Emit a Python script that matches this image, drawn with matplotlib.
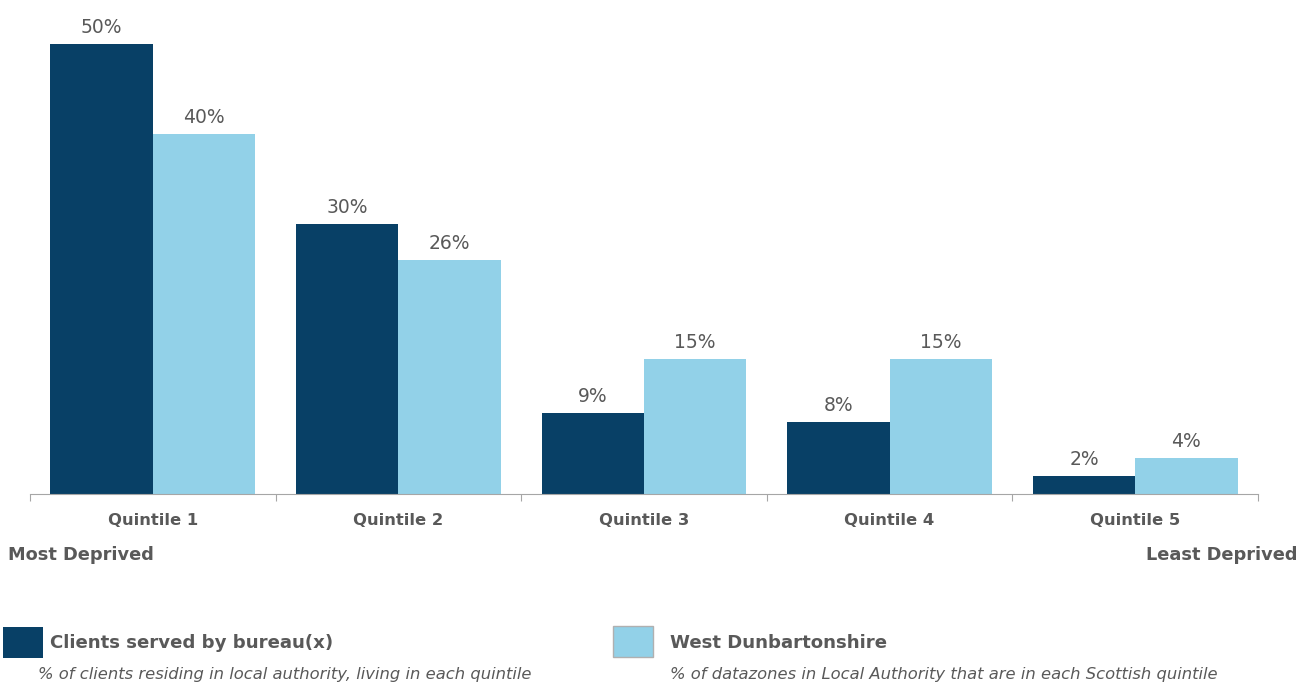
import matplotlib.pyplot as plt
import numpy as np
from matplotlib.patches import Rectangle

categories = ['Quintile 1', 'Quintile 2', 'Quintile 3', 'Quintile 4', 'Quintile 5']
clients = [50, 30, 9, 8, 2]
area = [40, 26, 15, 15, 4]
series_names = ['Clients served by bureau(x)', 'West Dunbartonshire']
series_notes = ['% of clients residing in local authority, living in each quintile',
                '% of datazones in Local Authority that are in each Scottish quintile']

DARK = '#084066'
LIGHT = '#92d1e8'
TXT = '#595959'
W, H = 1301, 684

plt.rcParams['font.family'] = ['DejaVu Sans']

fig = plt.figure(figsize=(W / 100, H / 100), dpi=100)

def px(x, y):
    # pixel position (from top-left) to figure fraction
    return x / W, 1 - y / H

ax_l, ax_r, ax_b, ax_t = 30, 1258, 494, 26
ax = fig.add_axes([ax_l / W, 1 - ax_b / H, (ax_r - ax_l) / W, (ax_b - ax_t) / H])

x = np.arange(len(categories))
bw = 0.417
ax.bar(x - bw / 2, clients, bw, color=DARK)
ax.bar(x + bw / 2, area, bw, color=LIGHT)

for i in range(len(categories)):
    ax.text(x[i] - bw / 2, clients[i] + 0.8, f'{clients[i]}%', ha='center', va='bottom',
            fontsize=13.5, color=TXT)
    ax.text(x[i] + bw / 2, area[i] + 0.8, f'{area[i]}%', ha='center', va='bottom',
            fontsize=13.5, color=TXT)

ax.set_xlim(-0.5, len(categories) - 0.5)
ax.set_ylim(0, 52)
for s in ['top', 'right', 'left']:
    ax.spines[s].set_visible(False)
ax.spines['bottom'].set_color('#a6a6a6')
ax.set_yticks([])
ax.set_xticks(np.arange(len(categories) + 1) - 0.5)
ax.set_xticklabels([])
ax.tick_params(axis='x', direction='out', length=5, color='#a6a6a6')
for i, c in enumerate(categories):
    ax.text(x[i], -2.9, c, ha='center', va='center', fontsize=11.8,
            fontweight='bold', color=TXT)

fig.text(*px(8, 555), 'Most Deprived', ha='left', va='center', fontsize=12.8,
         fontweight='bold', color=TXT)
fig.text(*px(1298, 555), 'Least Deprived', ha='right', va='center', fontsize=12.8,
         fontweight='bold', color=TXT)

# legend
boxes = [(3, 627, DARK, 'none'), (613, 626, LIGHT, '#b0b0b0')]
label_x = [50, 670]
note_x = [38, 670]
for (bx, by, col, ec), lx, nx, name, note in zip(boxes, label_x, note_x, series_names, series_notes):
    x0, y0 = px(bx, by + 31)
    fig.patches.append(Rectangle((x0, y0), 40 / W, 31 / H, transform=fig.transFigure,
                                 facecolor=col, edgecolor=ec, linewidth=1))
    fig.text(*px(lx, 643), name, ha='left', va='center', fontsize=13.1,
             fontweight='bold', color=TXT)
    fig.text(*px(nx, 675), note, ha='left', va='center', fontsize=11.8,
             style='italic', color=TXT)

fig.savefig('out.png', dpi=100)
